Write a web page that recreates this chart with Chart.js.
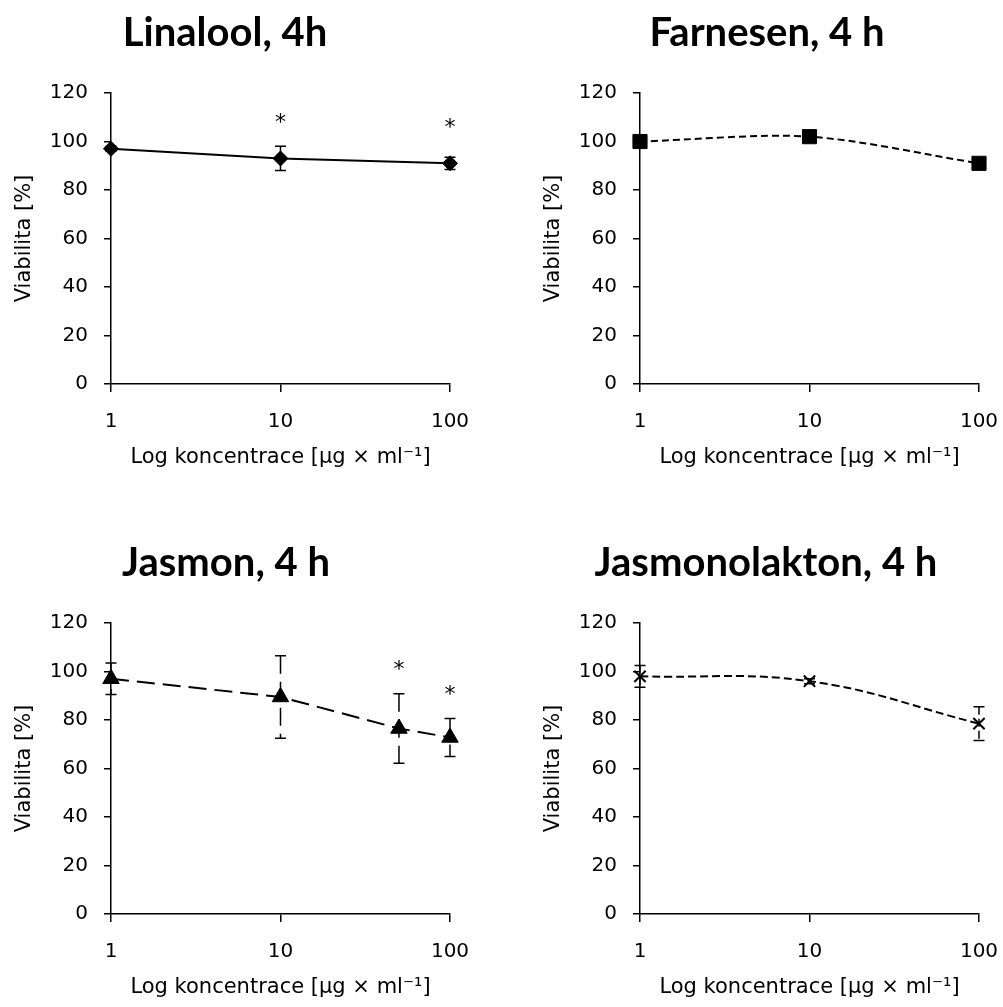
<!DOCTYPE html>
<html lang="cs">
<head>
<meta charset="utf-8">
<title>Viabilita, 4 h</title>
<script src="https://cdn.jsdelivr.net/npm/chart.js@4.4.1/dist/chart.umd.min.js"></script>
<style>
    html, body { margin: 0; padding: 0; background: #fff; overflow: hidden; }
    .panel { position: absolute; width: 474px; height: 530px; }
    #p1 { left: 0; top: 0; }
    #p2 { left: 529px; top: 0; }
    #p3 { left: 0; top: 530px; }
    #p4 { left: 529px; top: 530px; }
</style>
</head>
<body>
<div class="panel" id="p1"><canvas id="linaloolChart" width="474" height="530"></canvas></div>
<div class="panel" id="p2"><canvas id="farnesenChart" width="474" height="530"></canvas></div>
<div class="panel" id="p3"><canvas id="jasmonChart" width="474" height="530"></canvas></div>
<div class="panel" id="p4"><canvas id="jasmonolaktonChart" width="474" height="530"></canvas></div>

<script>
// --- data ---
const xTicks = [1, 10, 100];
const yTicks = [0, 20, 40, 60, 80, 100, 120];

const linaloolConc = [1, 10, 100];
const linaloolViab = [97, 93, 91];
const linaloolErr = [1, 5, 2.5];
const linaloolStarConc = [10, 100];
const linaloolStarY = [109, 107];

const farnesenConc = [1, 10, 100];
const farnesenViab = [100, 102, 91];
const farnesenErr = [1, 1.5, 1];

const jasmonConc = [1, 10, 50, 100];
const jasmonViab = [97, 89.5, 76.5, 72.8];
const jasmonErr = [6.5, 17, 14.3, 7.8];
const jasmonStarConc = [50, 100];
const jasmonStarY = [102, 91.8];

const jasmonolaktonConc = [1, 10, 100];
const jasmonolaktonViab = [98, 96, 78.5];
const jasmonolaktonErr = [4.5, 1, 7];

const FONT = '"DejaVu Sans", sans-serif';
const TITLE_FONT = 'Lato, "Open Sans", sans-serif';
Chart.defaults.color = '#000';
Chart.defaults.font.family = FONT;

/**
 * Draws the bold panel heading.
 */
const panelTitlePlugin = {
    id: 'panelTitle',
    afterDraw(chart, args, opts) {
        const ctx = chart.ctx;
        ctx.save();
        ctx.font = 'bold 40px ' + TITLE_FONT;
        ctx.fillStyle = '#000';
        ctx.textAlign = 'center';
        ctx.textBaseline = 'alphabetic';
        ctx.fillText(opts.text, opts.x, opts.y);
        ctx.restore();
    }
};

/**
 * Draws vertical error bars (same dash as the series line) with caps.
 */
const errorBarPlugin = {
    id: 'errorBars',
    beforeDatasetsDraw(chart, args, opts) {
        if (!opts.err) return;
        const ctx = chart.ctx;
        const { x: xs, y: ys } = chart.scales;
        const ds = chart.data.datasets[0];
        ctx.save();
        ctx.strokeStyle = '#000';
        ctx.lineWidth = 1.5;
        opts.err.forEach((e, i) => {
            const pt = ds.data[i];
            const px = xs.getPixelForValue(pt.x);
            const top = ys.getPixelForValue(pt.y + e);
            const bot = ys.getPixelForValue(pt.y - e);
            ctx.setLineDash(ds.borderDash || []);
            ctx.beginPath();
            ctx.moveTo(px, top);
            ctx.lineTo(px, bot);
            ctx.stroke();
            ctx.setLineDash([]);
            ctx.beginPath();
            ctx.moveTo(px - 5.5, top);
            ctx.lineTo(px + 5.5, top);
            ctx.moveTo(px - 5.5, bot);
            ctx.lineTo(px + 5.5, bot);
            ctx.stroke();
        });
        ctx.restore();
    }
};

/**
 * Draws significance asterisks above selected points.
 */
const starPlugin = {
    id: 'stars',
    afterDatasetsDraw(chart, args, opts) {
        if (!opts.conc) return;
        const ctx = chart.ctx;
        const { x: xs, y: ys } = chart.scales;
        ctx.save();
        ctx.font = '22px ' + FONT;
        ctx.fillStyle = '#000';
        ctx.textAlign = 'center';
        ctx.textBaseline = 'middle';
        opts.conc.forEach((c, i) => {
            ctx.fillText('*', xs.getPixelForValue(c), ys.getPixelForValue(opts.y[i]) + 4);
        });
        ctx.restore();
    }
};

document.addEventListener('DOMContentLoaded', () => {
    createPanel('linaloolChart', {
        title: 'Linalool, 4h', titleX: 225,
        conc: linaloolConc, viab: linaloolViab, err: linaloolErr,
        starConc: linaloolStarConc, starY: linaloolStarY,
        pointStyle: 'rectRot', radius: 7.5, dash: [], tension: 0
    });
    createPanel('farnesenChart', {
        title: 'Farnesen, 4 h', titleX: 238,
        conc: farnesenConc, viab: farnesenViab, err: farnesenErr,
        pointStyle: 'rect', radius: 10, dash: [7, 4], tension: 0.3
    });
    createPanel('jasmonChart', {
        title: 'Jasmon, 4 h', titleX: 226,
        conc: jasmonConc, viab: jasmonViab, err: jasmonErr,
        starConc: jasmonStarConc, starY: jasmonStarY,
        pointStyle: 'triangle', radius: 9.5, dash: [18, 8], tension: 0
    });
    createPanel('jasmonolaktonChart', {
        title: 'Jasmonolakton, 4 h', titleX: 237,
        conc: jasmonolaktonConc, viab: jasmonolaktonViab, err: jasmonolaktonErr,
        pointStyle: 'crossRot', radius: 8, dash: [8, 4], tension: 0.4
    });
});

/**
 * Builds one viability panel on a log concentration axis.
 */
function createPanel(canvasId, cfg) {
    const ctx = document.getElementById(canvasId)?.getContext('2d');
    if (!ctx) return;

    new Chart(ctx, {
        type: 'scatter',
        data: {
            datasets: [{
                data: cfg.conc.map((c, i) => ({ x: c, y: cfg.viab[i] })),
                showLine: true,
                borderColor: '#000',
                borderWidth: 2,
                borderDash: cfg.dash,
                tension: cfg.tension,
                pointStyle: cfg.pointStyle,
                pointRadius: cfg.radius,
                pointBackgroundColor: '#000',
                pointBorderColor: '#000',
                pointBorderWidth: cfg.pointStyle === 'crossRot' ? 2 : 1,
                clip: false
            }]
        },
        options: {
            responsive: false,
            animation: false,
            layout: { padding: { top: 93, right: 24, bottom: 56, left: 0 } },
            plugins: {
                legend: { display: false },
                tooltip: { enabled: false },
                panelTitle: { text: cfg.title, x: cfg.titleX, y: 46 },
                errorBars: { err: cfg.err },
                stars: { conc: cfg.starConc, y: cfg.starY }
            },
            scales: {
                x: {
                    type: 'logarithmic',
                    position: 'bottom',
                    min: 1,
                    max: 100,
                    afterBuildTicks: s => { s.ticks = xTicks.map(v => ({ value: v })); },
                    afterFit: s => { s.height = 90; s.paddingLeft = 0; s.paddingRight = 0; },
                    ticks: {
                        autoSkip: false,
                        maxRotation: 0,
                        padding: 18,
                        font: { size: 20 },
                        callback: v => String(v)
                    },
                    grid: { drawOnChartArea: false, tickLength: 8, color: '#000', lineWidth: 1.5 },
                    border: { color: '#000', width: 1.5 },
                    title: {
                        display: true,
                        text: 'Log koncentrace [µg × ml⁻¹]',
                        font: { size: 21 },
                        padding: { top: 0, bottom: 4 }
                    }
                },
                y: {
                    min: 0,
                    max: 120,
                    afterBuildTicks: s => { s.ticks = yTicks.map(v => ({ value: v })); },
                    afterFit: s => { s.width = 111; },
                    ticks: { padding: 16, font: { size: 20 } },
                    grid: { drawOnChartArea: false, tickLength: 7, color: '#000', lineWidth: 1.5 },
                    border: { color: '#000', width: 1.5 },
                    title: {
                        display: true,
                        text: 'Viabilita [%]',
                        font: { size: 21 },
                        padding: { top: 12, bottom: 0 }
                    }
                }
            }
        },
        plugins: [panelTitlePlugin, errorBarPlugin, starPlugin]
    });
}
</script>
</body>
</html>
